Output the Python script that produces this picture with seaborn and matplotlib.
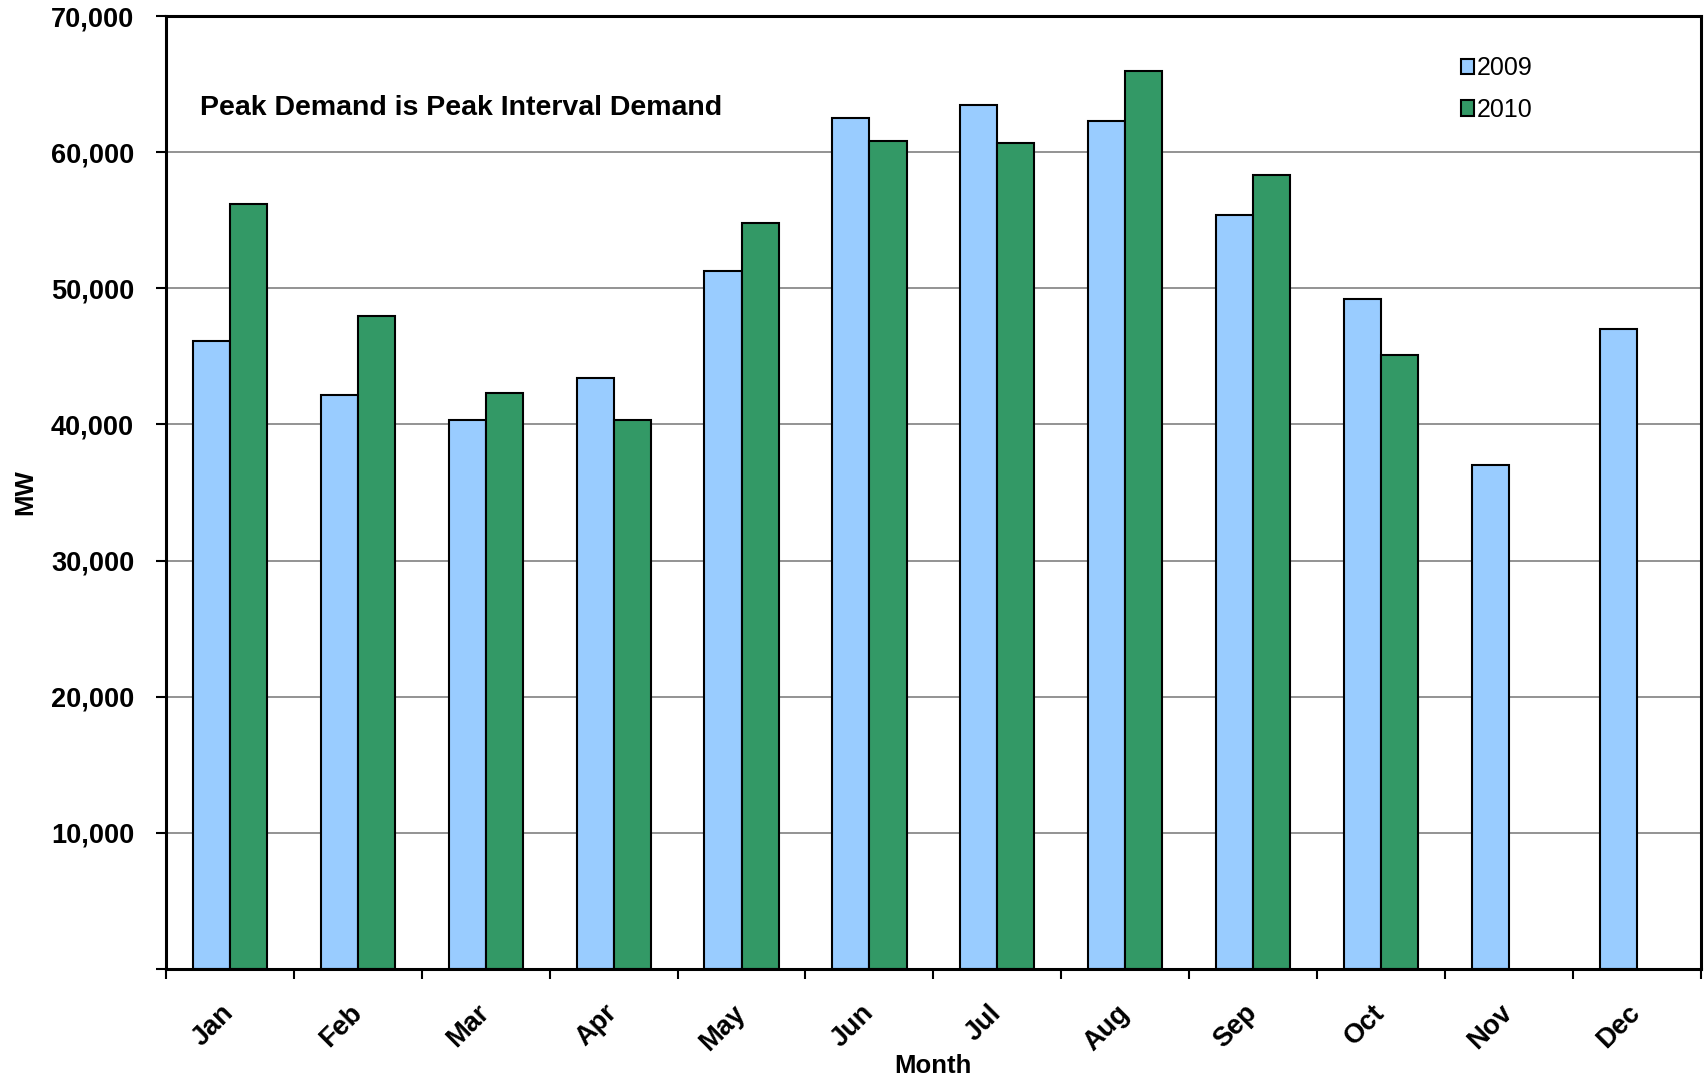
import pandas as pd
import matplotlib
matplotlib.use("Agg")
import matplotlib.pyplot as plt
from matplotlib.patches import Patch
from matplotlib.ticker import FuncFormatter, FixedLocator
import seaborn as sns

months = ["Jan", "Feb", "Mar", "Apr", "May", "Jun", "Jul", "Aug", "Sep", "Oct", "Nov", "Dec"]
years = ["2009", "2010"]
peak_2009 = [46100, 42200, 40300, 43400, 51300, 62500, 63500, 62300, 55400, 49200, 37000, 47000]
peak_2010 = [56200, 48000, 42300, 40300, 54800, 60800, 60700, 66000, 58300, 45100]
colors = {"2009": "#99CCFF", "2010": "#339966"}

# long form table, 2010 only goes through Oct
rows = []
for m, v in zip(months, peak_2009):
    rows.append({"Month": m, "Year": "2009", "MW": v})
for m, v in zip(months, peak_2010):
    rows.append({"Month": m, "Year": "2010", "MW": v})
df = pd.DataFrame(rows)

plt.rcParams["font.family"] = ["Liberation Sans", "DejaVu Sans"]

fig = plt.figure(figsize=(17.04, 10.8), dpi=100)
ax = fig.add_axes([0.0975, 0.103, 0.9005, 0.882])

sns.barplot(data=df, x="Month", y="MW", hue="Year", order=months, hue_order=years,
            palette=colors, saturation=1, width=0.58, errorbar=None, edgecolor="black",
            linewidth=1.5, ax=ax, legend=False)

ax.set_xlim(-0.5, 11.5)
ax.set_ylim(0, 70000)
ax.set_yticks(range(0, 70001, 10000))
ax.yaxis.set_major_formatter(FuncFormatter(lambda v, p: "" if v == 0 else f"{int(v):,}"))
ax.yaxis.grid(True, color="#808080", linewidth=1.2)
ax.set_axisbelow(True)

for s in ax.spines.values():
    s.set_color("black")
    s.set_linewidth(2.2)

ax.tick_params(axis="y", direction="out", length=7, width=1.5, pad=16, labelsize=19.5)
for lab in ax.get_yticklabels():
    lab.set_fontweight("bold")

# month labels at centres, tick marks between months
ax.set_xticks(range(12))
ax.set_xticklabels(months, rotation=45, ha="right", va="center",
                   rotation_mode="anchor", fontsize=19.5, fontweight="bold")
ax.tick_params(axis="x", which="major", length=0, pad=29)
ax.xaxis.set_minor_locator(FixedLocator([i - 0.5 for i in range(13)]))
ax.tick_params(axis="x", which="minor", direction="out", length=7, width=1.5)

ax.set_xlabel("Month", fontsize=18.5, fontweight="bold", labelpad=-1)
ax.set_ylabel("MW", fontsize=18.5, fontweight="bold", labelpad=10)

ax.text(0.022, 0.904, "Peak Demand is Peak Interval Demand", transform=ax.transAxes,
        fontsize=20.5, fontweight="bold", va="center", ha="left")

handles = [Patch(facecolor=colors[y], edgecolor="black", linewidth=1.5, label=y) for y in years]
ax.legend(handles=handles, loc="upper left", bbox_to_anchor=(0.836, 0.971), frameon=False,
          fontsize=18, handlelength=0.5, handleheight=0.55, handletextpad=0.12,
          labelspacing=0.7, borderpad=0)

fig.savefig("out.png", dpi=100)
